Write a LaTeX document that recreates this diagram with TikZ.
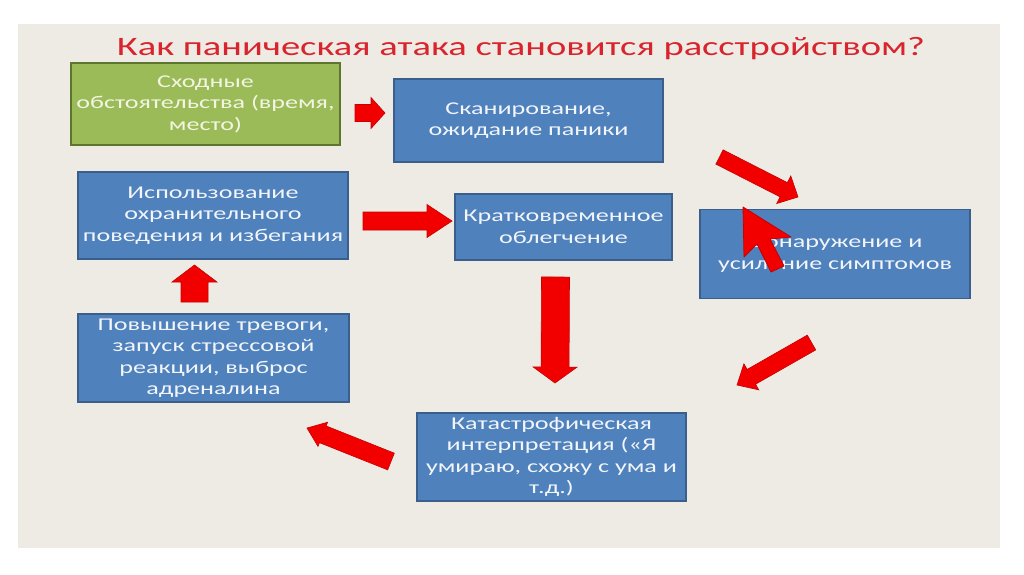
\documentclass[tikz,border=0pt]{standalone}
\usepackage{fontspec}
\setmainfont{Carlito}[FakeStretch=1.45]
\usetikzlibrary{calc}
\definecolor{slidebg}{HTML}{EDEBE4}
\definecolor{boxblue}{HTML}{4F81BD}
\definecolor{boxblueedge}{HTML}{3A5F8C}
\definecolor{boxgreen}{HTML}{9BBB59}
\definecolor{boxgreenedge}{HTML}{5E7530}
\definecolor{arrowred}{HTML}{F20000}
\definecolor{arrowedge}{HTML}{C80000}
\definecolor{titlered}{HTML}{D9232D}
\definecolor{bluetext}{HTML}{F2F5F9}
\definecolor{greentext}{HTML}{F3F5E2}
\tikzset{
  box/.style={draw=boxblueedge, fill=boxblue, line width=1.5pt, text=bluetext,
    align=center, inner sep=0pt, font=\fontsize{18}{21.5}\selectfont},
  greenbox/.style={box, draw=boxgreenedge, fill=boxgreen, text=greentext},
  arrowfill/.style={fill=arrowred, draw=arrowedge, line width=0.6pt, line join=miter},
}
\newcommand{\blockarr}[5]{%
  \coordinate (hb) at ($(#2)!#5pt!(#1)$);
  \path[arrowfill] ($(#1)!#3pt!90:(#2)$) -- ($(hb)!#3pt!90:(#2)$) -- ($(hb)!#4pt!90:(#2)$)
    -- (#2) -- ($(hb)!#4pt!-90:(#2)$) -- ($(hb)!#3pt!-90:(#2)$) -- ($(#1)!#3pt!-90:(#2)$) -- cycle;}
\begin{document}
\begin{tikzpicture}[x=1pt,y=-1pt]
\useasboundingbox (0,0) rectangle (1024,574);
\fill[white] (0,0) rectangle (1024,574);
\fill[slidebg] (18,24) rectangle (1000,548);

\node[anchor=base, text=titlered, font=\fontsize{26.6}{30}\selectfont, inner sep=0pt] (title) at (521,55)
  {Как паническая атака становится расстройством?};

\node[greenbox, minimum width=269pt, minimum height=82pt] (sit) at (205.5,104)
  {Сходные\\обстоятельства (время,\\место)};
\node[box, minimum width=269pt, minimum height=83pt] (scan) at (528.5,120.5)
  {Сканирование,\\ожидание паники};
\node[box, minimum width=270pt, minimum height=87pt] (avoid) at (213,215.5)
  {Использование\\охранительного\\поведения и избегания};
\node[box, minimum width=217pt, minimum height=66pt] (relief) at (563.5,227)
  {Кратковременное\\облегчение};
\node[box, minimum width=270pt, minimum height=89pt] (detect) at (835,254)
  {Обнаружение и\\усиление симптомов};
\node[box, minimum width=271pt, minimum height=88pt] (anx) at (213.5,358)
  {Повышение тревоги,\\запуск стрессовой\\реакции, выброс\\адреналина};
\node[box, minimum width=269pt, minimum height=88pt] (cat) at (551.5,457)
  {Катастрофическая\\интерпретация («Я\\умираю, схожу с ума и\\т.д.)};

% block arrows (tail / tip coordinates)
\coordinate (aT) at (355,113);   \coordinate (aH) at (385,113);
\coordinate (bT) at (363,221);   \coordinate (bH) at (452,221);
\coordinate (cT) at (194.5,302); \coordinate (cH) at (194.5,265);
\coordinate (dT) at (555.5,277); \coordinate (dH) at (555,383);
\coordinate (eT) at (719.5,157); \coordinate (eH) at (798,197);
\coordinate (fT) at (811.5,342.5); \coordinate (fH) at (737,385);
\coordinate (gT) at (391,461.5); \coordinate (gH) at (307,428);
\blockarr{aT}{aH}{8.5}{15.5}{14}
\blockarr{bT}{bH}{9}{16.5}{25}
\blockarr{cT}{cH}{13.5}{22.5}{17}
\blockarr{dT}{dH}{14}{22}{16}
\blockarr{eT}{eH}{8}{15.5}{16}
\blockarr{fT}{fH}{8.5}{15}{16.5}
\blockarr{gT}{gH}{9}{13}{17}

% mouse pointer over the "detect" box
\path[fill=arrowred, draw=arrowedge, line width=0.8pt, line join=round]
  (743,207) -- (744,257) -- (757,244) -- (771,272) -- (784,266) -- (770,239) -- (791,237) -- cycle;
\end{tikzpicture}
\end{document}
